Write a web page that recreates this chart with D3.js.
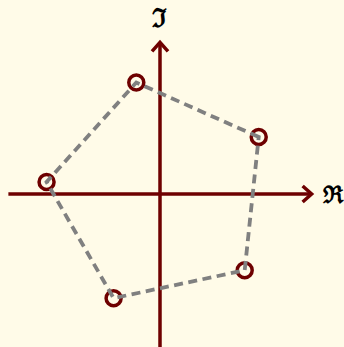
<!DOCTYPE html>
<html>
<head>
<meta charset="utf-8">
<script src="https://cdn.jsdelivr.net/npm/d3@7"></script>
<style>
  html, body { margin: 0; padding: 0; background: #fffbe8; }
  svg { display: block; }
</style>
</head>
<body>
<svg id="plot"></svg>
<script>
// fifth roots, rotated by 30 degrees
var re = [0.866, -0.208, -0.995, -0.407, 0.743]
var im = [0.5, 0.978, 0.105, -0.914, -0.669]
var axisLabels = ["\u211C", "\u2111"]  // real, imaginary
var axisExtent = [-1.33, 1.33]

var width = 344
var height = 347
var unit = 114
var ox = 160, oy = 194

var svg = d3.select("#plot")
    .attr("width", width)
    .attr("height", height)

var x = d3.scaleLinear().domain([-1, 1]).range([ox - unit, ox + unit])
var y = d3.scaleLinear().domain([-1, 1]).range([oy + unit, oy - unit])

var axisColor = "#6e0000"

// axes
svg.append("line")
    .attr("x1", x(axisExtent[0])).attr("x2", x(axisExtent[1]))
    .attr("y1", y(0)).attr("y2", y(0))
    .attr("stroke", axisColor).attr("stroke-width", 3.5)

svg.append("line")
    .attr("x1", x(0)).attr("x2", x(0))
    .attr("y1", y(axisExtent[0] - 0.1)).attr("y2", y(axisExtent[1]))
    .attr("stroke", axisColor).attr("stroke-width", 3.5)

// arrow heads
var hx = x(axisExtent[1]), hy = y(axisExtent[1])
svg.append("path")
    .attr("d", "M" + (hx - 9) + "," + (y(0) - 8) + "L" + hx + "," + y(0) + "L" + (hx - 9) + "," + (y(0) + 8))
    .attr("fill", "none").attr("stroke", axisColor).attr("stroke-width", 3.5)
    .attr("stroke-linejoin", "miter")
svg.append("path")
    .attr("d", "M" + (x(0) - 8) + "," + (hy + 9) + "L" + x(0) + "," + hy + "L" + (x(0) + 8) + "," + (hy + 9))
    .attr("fill", "none").attr("stroke", axisColor).attr("stroke-width", 3.5)
    .attr("stroke-linejoin", "miter")

// axis labels
svg.append("text")
    .attr("x", hx + 11).attr("y", y(0))
    .attr("dominant-baseline", "central")
    .style("font-family", "DejaVu Serif")
    .style("font-size", "24px")
    .style("font-weight", "bold")
    .text(axisLabels[0])
svg.append("text")
    .attr("x", x(0) - 1).attr("y", hy - 15)
    .attr("text-anchor", "middle")
    .style("font-family", "DejaVu Serif")
    .style("font-size", "26px")
    .style("font-weight", "bold")
    .text(axisLabels[1])

var pts = re.map(function(d, i) { return [d, im[i]] })

// points
svg.selectAll("circle.root")
    .data(pts)
    .enter()
    .append("circle")
    .attr("class", "root")
    .attr("cx", function(d) { return x(d[0]) })
    .attr("cy", function(d) { return y(d[1]) })
    .attr("r", 7.5)
    .attr("fill", "none")
    .attr("stroke", axisColor)
    .attr("stroke-width", 3.5)

// dashed polygon on top
svg.append("path")
    .datum(pts)
    .attr("d", d3.line().x(function(d) { return x(d[0]) }).y(function(d) { return y(d[1]) }).curve(d3.curveLinearClosed))
    .attr("fill", "none")
    .attr("stroke", "#808080")
    .attr("stroke-width", 3.8)
    .attr("stroke-dasharray", "9,5.5")
</script>
</body>
</html>
